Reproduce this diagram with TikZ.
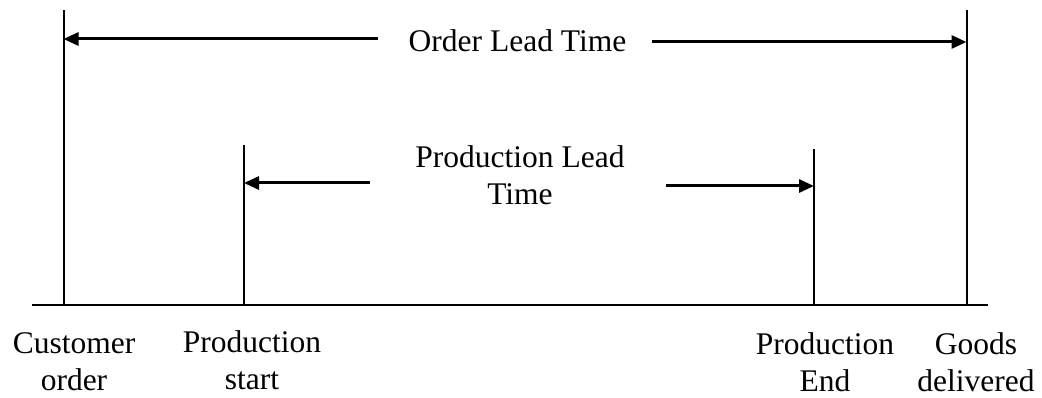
\documentclass[tikz,border=0pt]{standalone}
\usepackage{fontspec}
\setmainfont{Liberation Serif}
\usetikzlibrary{arrows.meta}
\begin{document}
\begin{tikzpicture}[x=1pt,y=-1pt,
  tick/.style={line width=2pt},
  axisline/.style={line width=2pt},
  arr/.style={line width=3pt,-{Triangle[length=15pt,width=13pt]}},
  lbl/.style={font=\fontsize{31.5}{37}\selectfont,align=center,inner sep=0pt}]
\useasboundingbox (0,0) rectangle (1042,398);
% timeline
\coordinate (axL) at (32,305);
\coordinate (axR) at (988,305);
\draw[axisline] (axL) -- (axR);
% vertical ticks
\coordinate (coT) at (63.5,10);   \coordinate (coB) at (63.5,305);
\coordinate (psT) at (244,145);   \coordinate (psB) at (244,305);
\coordinate (peT) at (814,149);   \coordinate (peB) at (814,305);
\coordinate (gdT) at (966.5,10);  \coordinate (gdB) at (966.5,305);
\draw[tick] (coT) -- (coB);
\draw[tick] (psT) -- (psB);
\draw[tick] (peT) -- (peB);
\draw[tick] (gdT) -- (gdB);
% order lead time
\node[lbl] (olt) at (517.5,41) {Order Lead Time};
\coordinate (oltL) at (378,39);
\coordinate (oltR) at (652,42);
\draw[arr] (oltL) -- (63.5,39);
\draw[arr] (oltR) -- (966.5,42);
% production lead time
\node[lbl] (plt) at (520,175) {Production Lead\\Time};
\coordinate (pltL) at (370,183);
\coordinate (pltR) at (666,186);
\draw[arr] (pltL) -- (244,183);
\draw[arr] (pltR) -- (814,186);
% labels
\node[lbl] (co) at (74,362) {Customer\\order};
\node[lbl] (ps) at (252,360) {Production\\start};
\node[lbl] (pe) at (825,362) {Production\\End};
\node[lbl] (gd) at (976,362) {Goods\\delivered};
\end{tikzpicture}
\end{document}
